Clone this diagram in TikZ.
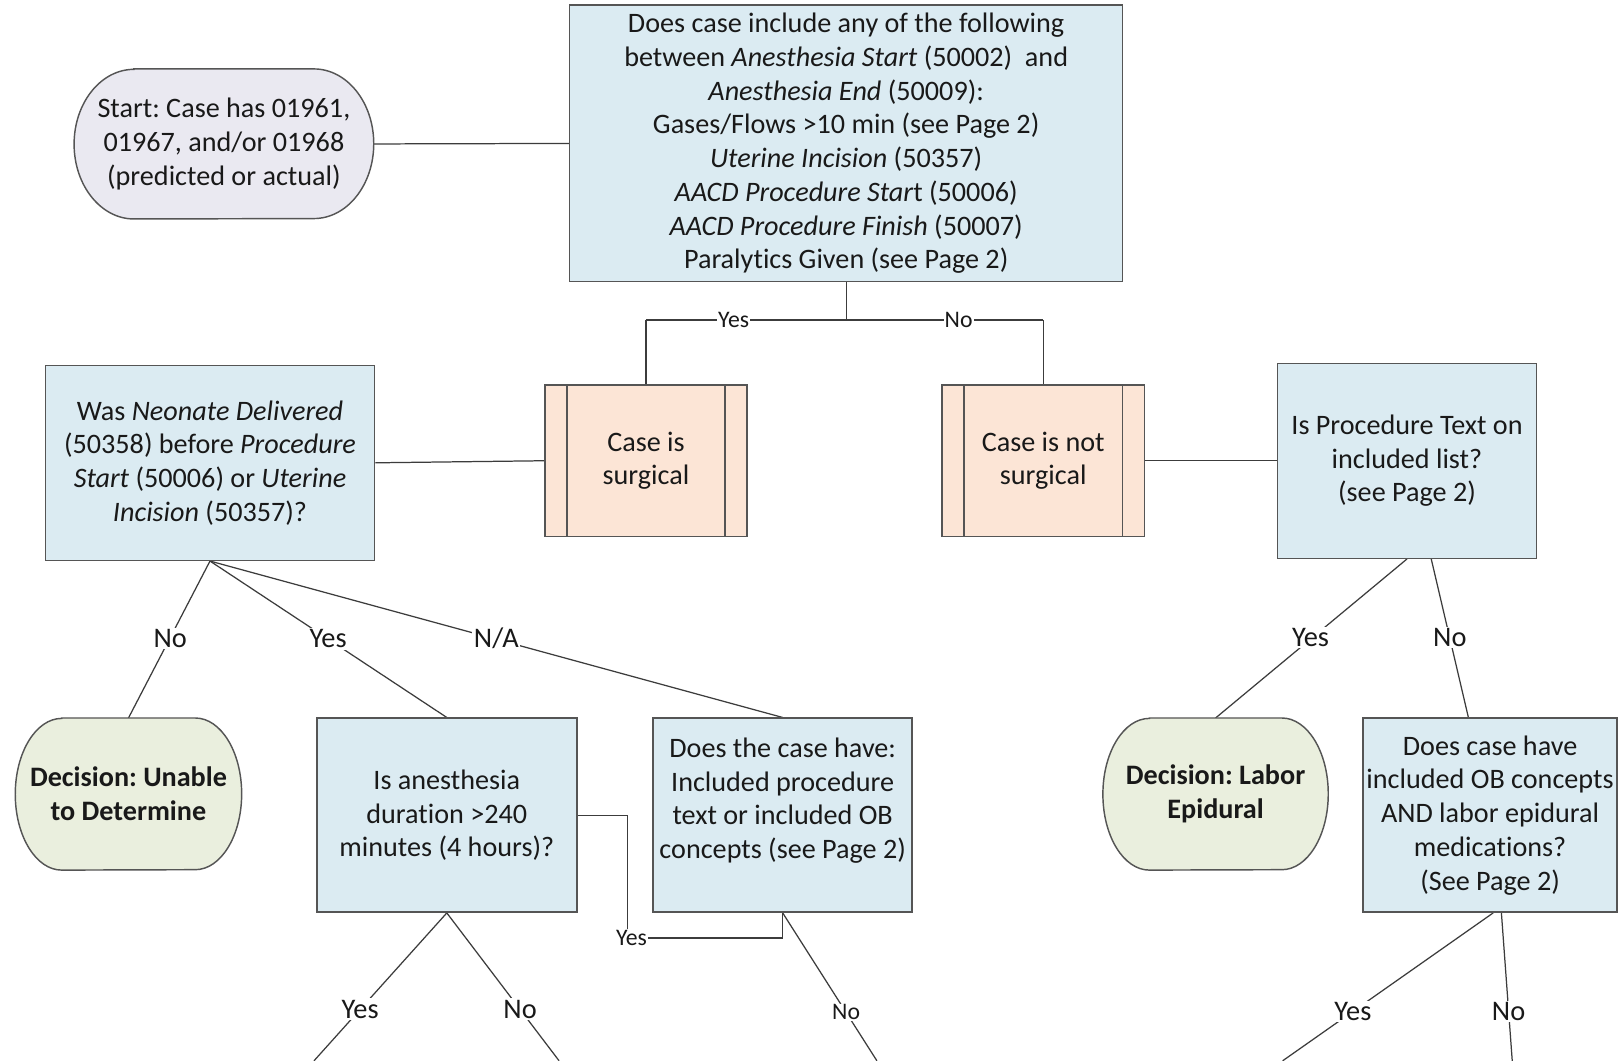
\documentclass[tikz,border=0pt]{standalone}
\usepackage{fontspec}
\setmainfont{Carlito}[Ligatures=NoCommon]
\usetikzlibrary{backgrounds}
\frenchspacing
\definecolor{boxblue}{RGB}{219,235,242}
\definecolor{peach}{RGB}{252,229,214}
\definecolor{lav}{RGB}{234,233,241}
\definecolor{sage}{RGB}{234,239,222}
\definecolor{edgegray}{RGB}{85,85,85}
\definecolor{conngray}{RGB}{60,60,60}
\definecolor{txt}{RGB}{25,25,25}
\tikzset{
  every node/.style={font=\fontsize{27.3}{32.7}\selectfont, text=txt},
  qbox/.style={rectangle, draw=edgegray, line width=1.4pt, fill=boxblue, align=center, inner sep=0pt},
  pbox/.style={rectangle, draw=edgegray, line width=1.4pt, fill=peach, align=center, inner sep=0pt},
  term/.style={rectangle, align=center, inner sep=0pt},
  conn/.style={draw=conngray, line width=1.2pt},
  lab/.style={fill=white, inner sep=1.5pt, font=\fontsize{27.5}{30}\selectfont},
  slab/.style={fill=white, inner sep=1pt, font=\fontsize{23}{26}\selectfont},
}
\newcommand{\stadpath}[4]{%
  \draw[draw=edgegray, line width=1.4pt, fill=#4]
    ([xshift=#2]#1.north west) -- ([xshift=-#2]#1.north east)
    arc[start angle=90, end angle=-90, x radius=#2, y radius=#3]
    -- ([xshift=#2]#1.south west)
    arc[start angle=270, end angle=90, x radius=#2, y radius=#3] -- cycle;}
\newcommand{\procbars}[2]{%
  \draw[draw=edgegray, line width=1.4pt] ([xshift=#2]#1.north west) -- ([xshift=#2]#1.south west);
  \draw[draw=edgegray, line width=1.4pt] ([xshift=-#2]#1.north east) -- ([xshift=-#2]#1.south east);}
\begin{document}
\begin{tikzpicture}[x=1pt, y=-1pt]
\useasboundingbox (0,0) rectangle (1568,1028);

% terminators (text nodes, shapes drawn on background)
\node[term, minimum width=290pt, minimum height=145pt] (start) at (217,139.5)
  {Start: Case has 01961,\\ 01967, and/or 01968\\ (predicted or actual)};
\node[term, minimum width=219pt, minimum height=147pt] (unable) at (124.5,769.5)
  {\textbf{Decision: Unable}\\ \textbf{to Determine}};
\node[term, minimum width=218pt, minimum height=147pt] (labor) at (1178,769.5)
  {\textbf{Decision: Labor}\\ \textbf{Epidural}};

% question boxes
\node[qbox, minimum width=536pt, minimum height=268pt] (main) at (820,139)
  {Does case include any of the following\\
   between \textit{Anesthesia Start} (50002)\ \ and\\
   \textit{Anesthesia End} (50009):\\
   Gases/Flows >10 min (see Page 2)\\
   \textit{Uterine Incision} (50357)\\
   \textit{AACD Procedure Star}t (50006)\\
   \textit{AACD Procedure Finish} (50007)\\
   Paralytics Given (see Page 2)};
\node[qbox, minimum width=319pt, minimum height=189pt] (neo) at (203.5,448.5)
  {Was \textit{Neonate Delivered}\\ (50358) before \textit{Procedure}\\
   \textit{Start} (50006) or \textit{Uterine}\\ \textit{Incision} (50357)?};
\node[qbox, minimum width=251pt, minimum height=189pt] (proc) at (1363.5,446.5)
  {Is Procedure Text on\\ included list?\\ (see Page 2)};
\node[qbox, minimum width=252pt, minimum height=188pt] (anes) at (433,790)
  {Is anesthesia\\ duration >240\\ minutes (4 hours)?};
\node[qbox, minimum width=251pt, minimum height=188pt] (doescase) at (758.5,790)
  {Does the case have:\\ Included procedure\\ text or included OB\\ concepts (see Page 2)\\ ~};
\node[qbox, minimum width=246pt, minimum height=188pt] (ob) at (1444,790)
  {Does case have\\ included OB concepts\\ AND labor epidural\\ medications?\\ (See Page 2)};

% predefined process boxes
\node[pbox, minimum width=196pt, minimum height=147pt] (surg) at (626,446.5)
  {Case is\\ surgical};
\node[pbox, minimum width=196pt, minimum height=147pt] (notsurg) at (1011,446.5)
  {Case is not\\ surgical};
\procbars{surg}{22pt}
\procbars{notsurg}{22pt}

% coordinates
\coordinate (split) at (820,310);
\coordinate (lsplit) at (626,310);
\coordinate (rsplit) at (1011,310);
\coordinate (elbowA) at (608,790);
\coordinate (elbowB) at (608,909);
\coordinate (elbowC) at (758.5,909);
\coordinate (endAY) at (304.3,1028);
\coordinate (endAN) at (541.8,1028);
\coordinate (endDN) at (849.8,1028);
\coordinate (endOY) at (1243,1028);
\coordinate (endON) at (1465.5,1028);

\begin{scope}[on background layer]
  \fill[white] (0,0) rectangle (1568,1028);
  \draw[conn] (start.east) -- (main.west);
  \draw[conn] (main.south) -- (split);
  \draw[conn] (lsplit) -- (rsplit);
  \draw[conn] (lsplit) -- (surg.north);
  \draw[conn] (rsplit) -- (notsurg.north);
  \draw[conn] (neo.east) -- (surg.west);
  \draw[conn] (notsurg.east) -- (proc.west);
  \draw[conn] (neo.south) -- (unable.north);
  \draw[conn] (neo.south) -- (anes.north);
  \draw[conn] (neo.south) -- (doescase.north);
  \draw[conn] (proc.south) -- (labor.north);
  \draw[conn] ([xshift=23.5pt]proc.south) -- ([xshift=-21pt]ob.north);
  \draw[conn] (anes.east) -- (elbowA) -- (elbowB) -- (elbowC) -- (doescase.south);
  \draw[conn] (anes.south) -- (endAY);
  \draw[conn] (anes.south) -- (endAN);
  \draw[conn] (doescase.south) -- (endDN);
  \draw[conn] ([xshift=3pt]ob.south) -- (endOY);
  \draw[conn] ([xshift=11pt]ob.south) -- (endON);
  \stadpath{start}{58pt}{72.5pt}{lav}
  \stadpath{unable}{45pt}{73.5pt}{sage}
  \stadpath{labor}{45pt}{73.5pt}{sage}
\end{scope}

% labels
\node[slab] (lyes1) at (711,310) {Yes};
\node[slab] (lno1) at (929,310) {No};
\node[lab] (lno2) at (165,619) {No};
\node[lab] (lyes2) at (318,619) {Yes};
\node[lab] (lna) at (481,619) {N/A};
\node[lab] (lyes3) at (1270,618) {Yes};
\node[lab] (lno3) at (1405,618) {No};
\node[lab] (lyes4) at (349,978) {Yes};
\node[lab] (lno4) at (504,978) {No};
\node[slab] (lyes5) at (612,909) {Yes};
\node[slab] (lno5) at (820,981) {No};
\node[lab] (lyes6) at (1311,980) {Yes};
\node[lab] (lno6) at (1462,980) {No};
\end{tikzpicture}
\end{document}
